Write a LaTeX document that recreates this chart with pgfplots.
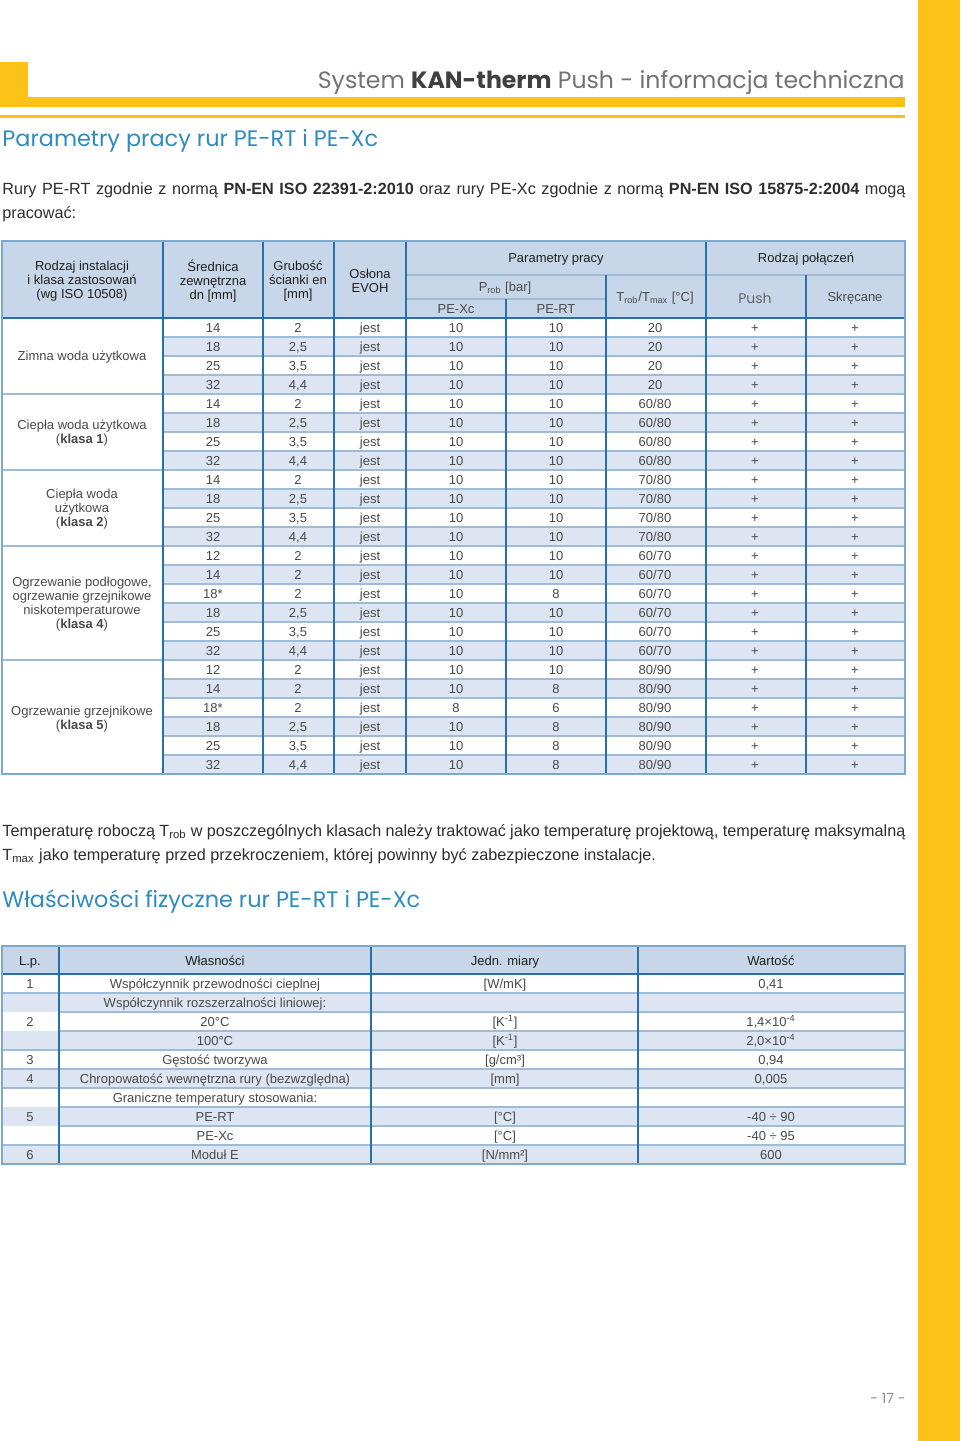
\documentclass[border=0pt]{standalone}
\usepackage{pgfplots}
\usepackage{pgfplotstable}
\pgfplotsset{compat=1.18}
\usepackage{fontspec}
\setmainfont{Liberation Sans}
\newfontfamily\hfont{Poppins}

\definecolor{yel}{HTML}{FDC217}
\definecolor{hdr}{HTML}{C8D6E9}
\definecolor{rowb}{HTML}{DCE5F1}
\definecolor{vline}{HTML}{2870A8}
\definecolor{hline}{HTML}{9EBCD8}
\definecolor{hblue}{HTML}{2C8CC0}
\definecolor{txt}{HTML}{4A4A4A}
\definecolor{body}{HTML}{2E2E2E}

\newcommand\tabfont{\fontsize{6.5}{7}\selectfont}
\newcommand\bodyfont{\fontsize{8.1}{12}\selectfont}

% parametry pracy: row centre, dn, en, EVOH, PE-Xc, PE-RT, Trob/Tmax, Push, Skrecane
\pgfplotstableread{
y     dn  en  evoh pxc prt temp  push skr
327.5 14  2   jest 10  10  20    +    +
346.5 18  2,5 jest 10  10  20    +    +
365.5 25  3,5 jest 10  10  20    +    +
384.5 32  4,4 jest 10  10  20    +    +
403.5 14  2   jest 10  10  60/80 +    +
422.5 18  2,5 jest 10  10  60/80 +    +
441.5 25  3,5 jest 10  10  60/80 +    +
460.5 32  4,4 jest 10  10  60/80 +    +
479.5 14  2   jest 10  10  70/80 +    +
498.5 18  2,5 jest 10  10  70/80 +    +
517.5 25  3,5 jest 10  10  70/80 +    +
536.5 32  4,4 jest 10  10  70/80 +    +
555.5 12  2   jest 10  10  60/70 +    +
574.5 14  2   jest 10  10  60/70 +    +
593.5 18* 2   jest 10  8   60/70 +    +
612.5 18  2,5 jest 10  10  60/70 +    +
631.5 25  3,5 jest 10  10  60/70 +    +
650.5 32  4,4 jest 10  10  60/70 +    +
669.5 12  2   jest 10  10  80/90 +    +
688.5 14  2   jest 10  8   80/90 +    +
707.5 18* 2   jest 8   6   80/90 +    +
726.5 18  2,5 jest 10  8   80/90 +    +
745.5 25  3,5 jest 10  8   80/90 +    +
764.5 32  4,4 jest 10  8   80/90 +    +
}\rury

% wlasciwosci fizyczne
\pgfplotstableread[col sep=semicolon]{
y;wl;jm;war
983.5;Współczynnik przewodności cieplnej;[W/mK];0,41
1002.5;Współczynnik rozszerzalności liniowej:;{};{}
1021.5;20°C;[K\textsuperscript{-1}];1,4×10\textsuperscript{-4}
1040.5;100°C;[K\textsuperscript{-1}];2,0×10\textsuperscript{-4}
1059.5;Gęstość tworzywa;[g/cm³];0,94
1078.5;Chropowatość wewnętrzna rury (bezwzględna);[mm];0,005
1097.5;Graniczne temperatury stosowania:;{};{}
1116.5;PE-RT;[°C];-40 ÷ 90
1135.5;PE-Xc;[°C];-40 ÷ 95
1154.5;Moduł E;[N/mm²];600
}\wlasn

\pgfplotstableread{
y      lp
983.5  1
1021.5 2
1059.5 3
1078.5 4
1116.5 5
1154.5 6
}\lp

\begin{document}
\begin{tikzpicture}
\begin{axis}[
  width=480pt, height=720.5pt, scale only axis, hide axis,
  xmin=0, xmax=960, ymin=0, ymax=1441, y dir=reverse, clip=false,
  cell/.style={draw=none, nodes near coords, point meta=explicit symbolic,
    every node near coord/.style={anchor=base, yshift=-2.3pt, inner sep=0pt, font=\tabfont, text=txt}},
  ]
\fill[white] (0,0) rectangle (960,1441);

% yellow frame
\fill[yel] (918,0) rectangle (960,1441);
\fill[yel] (0,62) rectangle (28,107);
\fill[yel] (0,97) rectangle (905,107);
\fill[yel] (0,115) rectangle (905,118);

\node[anchor=base east, inner sep=0pt, font=\hfont\fontsize{11.8}{12}\selectfont, text=black!55]
  at (905,88) {System \textbf{\color{black!75}KAN-therm} Push - informacja techniczna};

\node[anchor=base west, inner sep=0pt, font=\hfont\fontsize{11.2}{12}\selectfont, text=hblue]
  at (2,146) {Parametry pracy rur PE-RT i PE-Xc};

\node[anchor=base west, inner sep=0pt, font=\bodyfont, text=body] at (2,194)
  {\makebox[451.5pt][s]{Rury PE-RT zgodnie z normą \textbf{PN-EN ISO 22391-2:2010} oraz rury PE-Xc zgodnie z normą \textbf{PN-EN ISO 15875-2:2004} mogą}};
\node[anchor=base west, inner sep=0pt, font=\bodyfont, text=body] at (2,218) {pracować:};

% ---------- table 1 ----------
\fill[hdr] (2,241) rectangle (905,318);
\pgfplotsinvokeforeach{1,3,...,23}{
  \fill[rowb] (163,{318+19*#1}) rectangle (905,{337+19*#1});
}
\pgfplotsinvokeforeach{1,...,23}{
  \draw[hline, line width=0.6pt] (163,{318+19*#1}) -- (905,{318+19*#1});
}
\pgfplotsinvokeforeach{394,470,546,660}{
  \draw[hline, line width=0.8pt] (2,#1) -- (163,#1);
}
\draw[hline, line width=0.8pt] (406,275) -- (905,275);
\draw[hline, line width=0.8pt] (406,299) -- (606,299);
\draw[vline, line width=0.9pt] (2,318) -- (905,318);
\pgfplotsinvokeforeach{163,263,334,406,706}{
  \draw[vline, line width=1pt] (#1,241) -- (#1,774);
}
\draw[vline, line width=1pt] (506,299) -- (506,774);
\draw[vline, line width=1pt] (606,275) -- (606,774);
\draw[vline, line width=1pt] (806,275) -- (806,774);
\draw[vline!60, line width=1pt] (2,241) rectangle (905,774);

\begin{scope}[font=\tabfont, text=black!88, align=center, inner sep=0pt]
\node at (82,281) {Rodzaj instalacji\\i klasa zastosowań\\(wg ISO 10508)};
\node at (213,281) {Średnica\\zewnętrzna\\dn {[mm]}};
\node at (298,281) {Grubość\\ścianki en\\{[mm]}};
\node at (370,281) {Osłona\\EVOH};
\node at (556,259) {Parametry pracy};
\node at (806,259) {Rodzaj połączeń};
\node[text=txt] at (505,288) {P\textsubscript{rob} [bar]};
\node[text=txt] at (456,309) {PE-Xc};
\node[text=txt] at (556,309) {PE-RT};
\node[text=txt] at (655,298) {T\textsubscript{rob}/T\textsubscript{max} [°C]};
\node[text=black!60, font=\hfont\fontsize{7}{7}\selectfont] at (755,298) {Push};
\node[text=txt] at (855,298) {Skręcane};
\end{scope}

\begin{scope}[font=\tabfont, text=txt, align=center, inner sep=0pt]
\node at (82,357) {Zimna woda użytkowa};
\node at (82,433) {Ciepła woda użytkowa\\(\textbf{klasa 1})};
\node at (82,509) {Ciepła woda\\użytkowa\\(\textbf{klasa 2})};
\node at (82,604.5) {Ogrzewanie podłogowe,\\ogrzewanie grzejnikowe\\niskotemperaturowe\\(\textbf{klasa 4})};
\node at (82,719) {Ogrzewanie grzejnikowe\\(\textbf{klasa 5})};
\end{scope}

\addplot[cell] table[x expr=213, y=y, meta=dn]   {\rury};
\addplot[cell] table[x expr=298, y=y, meta=en]   {\rury};
\addplot[cell] table[x expr=370, y=y, meta=evoh] {\rury};
\addplot[cell] table[x expr=456, y=y, meta=pxc]  {\rury};
\addplot[cell] table[x expr=556, y=y, meta=prt]  {\rury};
\addplot[cell] table[x expr=655, y=y, meta=temp] {\rury};
\addplot[cell] table[x expr=755, y=y, meta=push] {\rury};
\addplot[cell] table[x expr=855, y=y, meta=skr]  {\rury};

% ---------- text between ----------
\node[anchor=base west, inner sep=0pt, font=\bodyfont, text=body] at (2,836)
  {\makebox[451.5pt][s]{Temperaturę roboczą T\textsubscript{rob} w poszczególnych klasach należy traktować jako temperaturę projektową, temperaturę maksymalną}};
\node[anchor=base west, inner sep=0pt, font=\bodyfont, text=body] at (2,860)
  {T\textsubscript{max} jako temperaturę przed przekroczeniem, której powinny być zabezpieczone instalacje.};

\node[anchor=base west, inner sep=0pt, font=\hfont\fontsize{11.2}{12}\selectfont, text=hblue]
  at (2,907) {Właściwości fizyczne rur PE-RT i PE-Xc};

% ---------- table 2 ----------
\fill[hdr] (2,946) rectangle (905,974);
\pgfplotsinvokeforeach{1,3,...,9}{
  \fill[rowb] (2,{974+19*#1}) rectangle (905,{993+19*#1});
}
\pgfplotsinvokeforeach{1,...,9}{
  \draw[hline, line width=0.6pt] (59,{974+19*#1}) -- (905,{974+19*#1});
}
\pgfplotsinvokeforeach{1,4,5,6,9}{
  \draw[hline, line width=0.6pt] (2,{974+19*#1}) -- (59,{974+19*#1});
}
\draw[vline, line width=0.9pt] (2,974) -- (905,974);
\pgfplotsinvokeforeach{59,371,638}{
  \draw[vline, line width=1pt] (#1,946) -- (#1,1164);
}
\draw[vline!60, line width=1pt] (2,946) rectangle (905,1164);

\begin{scope}[font=\tabfont, text=black!88, inner sep=0pt, anchor=base]
\node at (30,965) {L.p.};
\node at (215,965) {Własności};
\node at (505,965) {Jedn. miary};
\node at (771,965) {Wartość};
\end{scope}

\addplot[cell] table[x expr=30,  y=y, meta=lp]  {\lp};
\addplot[cell] table[x expr=215, y=y, meta=wl]  {\wlasn};
\addplot[cell] table[x expr=505, y=y, meta=jm]  {\wlasn};
\addplot[cell] table[x expr=771, y=y, meta=war] {\wlasn};

\node[inner sep=0pt, font=\hfont\fontsize{7}{7}\selectfont, text=black!45] at (888,1398) {- 17 -};
\end{axis}
\end{tikzpicture}
\end{document}
